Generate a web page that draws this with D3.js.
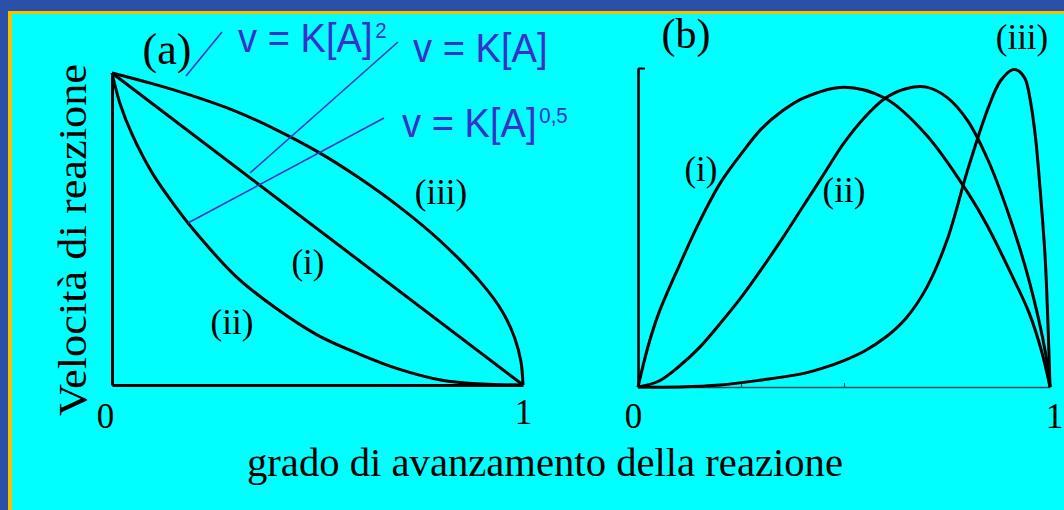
<!DOCTYPE html>
<html>
<head>
<meta charset="utf-8">
<script src="https://cdn.jsdelivr.net/npm/d3@7"></script>
<style>
  html, body { margin: 0; padding: 0; background: #2a50a8; }
  svg { display: block; }
</style>
</head>
<body>
<svg id="chart" width="1064" height="510"></svg>
<script>
// ---- data: reaction rate vs. extent of reaction ----
// (a) rate as a function of extent, three reaction orders
const extentA_i   = [0, 1];
const rateA_i     = [1, 0];
const extentA_ii  = [0, 0.02, 0.05, 0.1, 0.15, 0.2, 0.3, 0.4, 0.5, 0.6, 0.7, 0.8, 0.9, 1];
const rateA_ii    = [1, 0.90, 0.80, 0.675, 0.58, 0.495, 0.35, 0.245, 0.16, 0.10, 0.05, 0.016, 0.003, 0];
const extentA_iii = [0, 0.1, 0.2, 0.3, 0.4, 0.5, 0.6, 0.7, 0.8, 0.9, 0.95, 0.98, 0.995, 1];
const rateA_iii   = [1, 0.965, 0.925, 0.878, 0.818, 0.748, 0.665, 0.57, 0.46, 0.325, 0.235, 0.15, 0.075, 0];

// (b) three further rate profiles
const extentB_i   = [0, 0.025, 0.05, 0.1, 0.15, 0.2, 0.25, 0.3, 0.35, 0.4, 0.5, 0.6, 0.7, 0.8, 0.85, 0.9, 0.95, 0.98, 1];
const rateB_i     = [0, 0.13, 0.23, 0.38, 0.52, 0.64, 0.73, 0.81, 0.865, 0.905, 0.94, 0.905, 0.79, 0.61, 0.50, 0.37, 0.23, 0.11, 0];
const extentB_ii  = [0, 0.05, 0.1, 0.15, 0.2, 0.25, 0.3, 0.35, 0.4, 0.45, 0.5, 0.55, 0.6, 0.65, 0.7, 0.75, 0.8, 0.85, 0.9, 0.95, 0.99, 1];
const rateB_ii    = [0, 0.018, 0.065, 0.125, 0.20, 0.28, 0.37, 0.465, 0.565, 0.665, 0.765, 0.845, 0.905, 0.935, 0.94, 0.908, 0.835, 0.71, 0.54, 0.33, 0.10, 0];
const extentB_iii = [0, 0.1, 0.2, 0.3, 0.4, 0.45, 0.5, 0.55, 0.6, 0.65, 0.7, 0.75, 0.8, 0.85, 0.88, 0.91, 0.925, 0.94, 0.952, 0.965, 0.976, 0.988, 0.995, 1];
const rateB_iii   = [0, 0, 0.006, 0.022, 0.042, 0.06, 0.083, 0.113, 0.155, 0.215, 0.31, 0.46, 0.68, 0.875, 0.96, 0.995, 0.99, 0.965, 0.90, 0.78, 0.62, 0.41, 0.20, 0];

const tickLabels   = ["0", "1"];
const curveNamesA  = ["(i)", "(ii)", "(iii)"];
const curveNamesB  = ["(i)", "(ii)", "(iii)"];
const rateLaws     = [
  { base: "v = K[A]", exp: "2" },
  { base: "v = K[A]", exp: "" },
  { base: "v = K[A]", exp: "0,5" }
];
const xTitle = "grado di avanzamento della reazione";
const yTitle = "Velocità di reazione";

// ---- layout ----
const svg = d3.select("#chart");
const SERIF = "'Liberation Serif', 'Times New Roman', serif";
const SANS  = "'Liberation Sans', Arial, sans-serif";
const BLUE  = "#3a30cc";

// frame
svg.append("rect").attr("x", 0).attr("y", 0).attr("width", 1064).attr("height", 510).attr("fill", "#2a50a8");
svg.append("rect").attr("x", 8).attr("y", 11).attr("width", 1056).attr("height", 499).attr("fill", "#f2c200");
svg.append("rect").attr("x", 12).attr("y", 14).attr("width", 1052).attr("height", 496).attr("fill", "#00ffff");

const zip = (xs, ys) => xs.map((x, i) => [x, ys[i]]);
const smooth = d3.curveCatmullRom.alpha(0.5);

// ---- panel (a) ----
const xA = d3.scaleLinear().domain([0, 1]).range([112, 523]);
const yA = d3.scaleLinear().domain([0, 1]).range([385, 73]);
const lineA = d3.line().x(d => xA(d[0])).y(d => yA(d[1])).curve(smooth);

const gA = svg.append("g");
const axA = gA.append("g").attr("transform", `translate(0,${yA(0)})`)
  .call(d3.axisBottom(xA).tickValues([0, 1]).tickFormat((d, i) => tickLabels[i]).tickSize(0).tickSizeOuter(0));
axA.select(".domain").attr("stroke", "#000").attr("stroke-width", 3);
axA.selectAll(".tick text")
  .attr("font-family", SERIF).attr("font-size", 35).attr("fill", "#000")
  .attr("dy", null).attr("y", (d) => d === 0 ? 43 : 39)
  .attr("x", (d) => d === 0 ? -7 : 0);
const ayA = gA.append("g").attr("transform", `translate(${xA(0)},0)`)
  .call(d3.axisLeft(yA).tickValues([]).tickSizeOuter(0));
ayA.select(".domain").attr("stroke", "#000").attr("stroke-width", 3);

[zip(extentA_i, rateA_i), zip(extentA_ii, rateA_ii), zip(extentA_iii, rateA_iii)].forEach(pts => {
  gA.append("path").attr("d", lineA(pts)).attr("fill", "none")
    .attr("stroke", "#000").attr("stroke-width", 3).attr("stroke-linejoin", "round");
});

// curve names in panel (a)
const labelPosA = [[308, 274], [232, 334], [441, 204]];
curveNamesA.forEach((t, i) => {
  svg.append("text").attr("x", labelPosA[i][0]).attr("y", labelPosA[i][1])
    .attr("text-anchor", "middle").attr("font-family", SERIF).attr("font-size", 35).text(t);
});
svg.append("text").attr("x", 167).attr("y", 64).attr("text-anchor", "middle")
  .attr("font-family", SERIF).attr("font-size", 44).text("(a)");

// ---- panel (b) ----
const xB = d3.scaleLinear().domain([0, 1]).range([638, 1050]);
const yB = d3.scaleLinear().domain([0, 1]).range([387, 68]);
const lineB = d3.line().x(d => xB(d[0])).y(d => yB(Math.max(0, d[1]))).curve(smooth);

const gB = svg.append("g");
const axB = gB.append("g").attr("transform", `translate(0,${yB(0)})`)
  .call(d3.axisBottom(xB).tickValues([0, 0.25, 0.5, 1])
    .tickFormat(d => d === 0 ? tickLabels[0] : d === 1 ? tickLabels[1] : "")
    .tickSize(-4).tickSizeOuter(0));
axB.select(".domain").attr("stroke", "#1d4f55").attr("stroke-width", 1.6);
axB.selectAll(".tick line").attr("stroke", "#1d4f55").attr("stroke-width", 1.2)
  .attr("display", d => (d === 0 || d === 1) ? "none" : null);
axB.selectAll(".tick text")
  .attr("font-family", SERIF).attr("font-size", 35).attr("fill", "#000")
  .attr("dy", null).attr("y", 41)
  .attr("x", (d) => d === 0 ? -5 : 4);
const ayB = gB.append("g").attr("transform", `translate(${xB(0)},0)`)
  .call(d3.axisLeft(yB).tickValues([1]).tickFormat("").tickSize(-7).tickSizeOuter(0));
ayB.select(".domain").attr("stroke", "#000").attr("stroke-width", 2.6);
ayB.selectAll(".tick line").attr("stroke", "#000").attr("stroke-width", 2);

[zip(extentB_i, rateB_i), zip(extentB_ii, rateB_ii), zip(extentB_iii, rateB_iii)].forEach(pts => {
  gB.append("path").attr("d", lineB(pts)).attr("fill", "none")
    .attr("stroke", "#000").attr("stroke-width", 3).attr("stroke-linejoin", "round");
});

const labelPosB = [[701, 181], [844, 202], [1022, 49]];
curveNamesB.forEach((t, i) => {
  svg.append("text").attr("x", labelPosB[i][0]).attr("y", labelPosB[i][1])
    .attr("text-anchor", "middle").attr("font-family", SERIF).attr("font-size", 35).text(t);
});
svg.append("text").attr("x", 686).attr("y", 48).attr("text-anchor", "middle")
  .attr("font-family", SERIF).attr("font-size", 42).text("(b)");

// ---- axis titles ----
svg.append("text").attr("x", 545).attr("y", 476).attr("text-anchor", "middle")
  .attr("font-family", SERIF).attr("font-size", 40)
  .attr("textLength", 596).attr("lengthAdjust", "spacingAndGlyphs").text(xTitle);
svg.append("text").attr("transform", "translate(86,240) rotate(-90)").attr("text-anchor", "middle")
  .attr("font-family", SERIF).attr("font-size", 40)
  .attr("textLength", 352).attr("lengthAdjust", "spacingAndGlyphs").text(yTitle);

// ---- rate-law callouts ----
const leaders = [
  [[222, 32], [186, 76]],
  [[398, 42], [250, 173]],
  [[384, 118], [188, 223]]
];
leaders.forEach(l => {
  svg.append("line").attr("x1", l[0][0]).attr("y1", l[0][1]).attr("x2", l[1][0]).attr("y2", l[1][1])
    .attr("stroke", BLUE).attr("stroke-width", 1.6);
});
const lawPos = [[238, 52], [413, 62], [402, 137]];
rateLaws.forEach((r, i) => {
  const t = svg.append("g")
    .attr("transform", `translate(${lawPos[i][0]},${lawPos[i][1]}) scale(0.93,1)`)
    .append("text").attr("font-family", SANS).attr("font-size", 41).attr("fill", BLUE);
  t.append("tspan").text(r.base);
  if (r.exp) t.append("tspan").attr("font-size", 22).attr("dx", 3).attr("dy", -14).text(r.exp);
});
</script>
</body>
</html>
